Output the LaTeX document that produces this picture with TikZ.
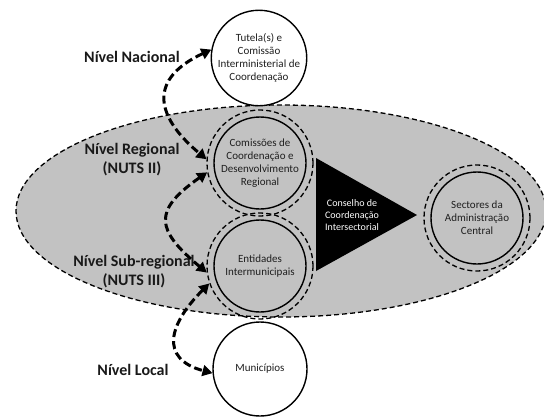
\documentclass[tikz,border=0pt]{standalone}
\usepackage{fontspec}
\setmainfont{Carlito}
\usetikzlibrary{arrows.meta, positioning}
\definecolor{fundo}{gray}{0.76}
\definecolor{texto}{gray}{0.12}

\begin{document}
\begin{tikzpicture}[x=1pt, y=-1pt,
    nivel/.style={font=\fontsize{16}{19}\selectfont\bfseries, text=black!90, align=center},
    orgao/.style={circle, draw, line width=1.4pt, minimum size=92pt, inner sep=0pt,
        align=center, text=texto, font=\fontsize{11}{13}\selectfont},
    anel/.style={circle, draw, dash pattern=on 5pt off 3pt, line width=1.3pt,
        minimum size=106pt, inner sep=0pt},
    liga/.style={{Triangle[length=10pt,width=11pt]}-{Triangle[length=10pt,width=11pt]},
        line width=3pt, dash pattern=on 8pt off 4pt}
]
    \useasboundingbox (0, 0) rectangle (544, 416);
    % regiao
    \draw[fill=fundo, line width=1.3pt, dash pattern=on 5pt off 3pt]
    (281, 211) ellipse [x radius=265pt, y radius=106pt];

    % niveis
    \node[nivel] (nac) at (132, 57) {Nível Nacional};
    \node[nivel] (reg) at (132, 160) {Nível Regional\\(NUTS II)};
    \node[nivel] (sub) at (134, 272) {Nível Sub-regional\\(NUTS III)};
    \node[nivel] (loc) at (133, 370) {Nível Local};

    % orgaos
    \node[orgao, fill=white, minimum size=90pt] (tut) at (259, 58)
        {Tutela(s) e\\Comissão\\Interministerial de\\Coordenação};
    \node[anel] (ccdr) at (260, 163) {};
    \node[orgao] (ccdr-txt) at (ccdr) {Comissões de\\Coordenação e\\Desenvolvimento\\Regional};
    \node[anel] (ent) at (260, 266) {};
    \node[orgao] (ent-txt) at (ent) {Entidades\\Intermunicipais};
    \node[orgao, fill=white, minimum size=94pt] (mun) at (260, 369) {Municípios};
    \node[anel] (sec) at (477, 218) {};
    \node[orgao] (sec-txt) at (sec) {Sectores da\\Administração\\Central};

    % conselho
    \fill (316, 158) -- (417, 215) -- (316, 271) -- cycle;
    \node[text=white, align=center, font=\fontsize{10}{12}\selectfont] (cci) at (352, 215)
        {Conselho de\\Coordenação\\Intersectorial};

    % ligacoes
    \draw[liga] (tut.170) to[out=205, in=140, looseness=1.6] (ccdr.176);
    \draw[liga] (ccdr.190) to[out=215, in=140, looseness=1.7] (ent.187);
    \draw[liga] (ent.199) to[out=225, in=165, looseness=1.6] (mun.185);
\end{tikzpicture}
\end{document}
